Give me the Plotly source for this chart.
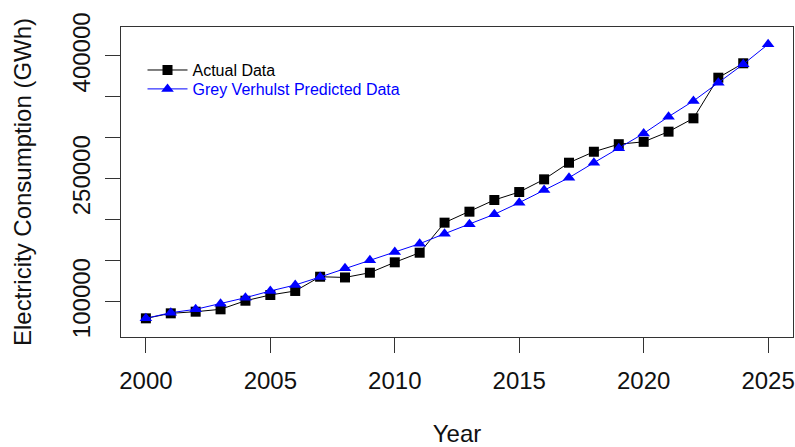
import plotly.graph_objects as go

years_actual = list(range(2000, 2025))
actual = [79700, 85800, 87800, 90700, 101200, 108200, 113100, 130500, 129600, 135400,
          148100, 159800, 196500, 209900, 224200, 233900, 249400, 269700, 283100, 292300,
          295200, 307600, 323900, 373500, 391100]

years_pred = list(range(2000, 2026))
predicted = [79700, 86600, 90700, 97600, 104900, 113100, 120400, 130200, 140800, 150500,
             160700, 170800, 183000, 194500, 206700, 220900, 236400, 251400, 269700, 287300,
             305400, 325900, 345100, 367400, 389900, 414300]

x_tick_vals = [2000, 2005, 2010, 2015, 2020, 2025]
y_tick_vals = [100000, 150000, 200000, 250000, 300000, 350000, 400000]
y_tick_text = ["100000", "", "", "250000", "", "", "400000"]

FONT = "Liberation Sans, Arial, sans-serif"

fig = go.Figure()
fig.add_trace(go.Scatter(
    x=years_actual, y=actual, mode="lines+markers", name="Actual Data",
    line=dict(color="black", width=1),
    marker=dict(symbol="square", size=10, color="black"),
    legend="legend", showlegend=True,
))
fig.add_trace(go.Scatter(
    x=years_pred, y=predicted, mode="lines+markers", name="Grey Verhulst Predicted Data",
    line=dict(color="blue", width=1),
    marker=dict(symbol="triangle-up", size=11, color="blue"),
    legend="legend2", showlegend=True,
))

axis_common = dict(
    showline=True, linecolor="#333", linewidth=1, mirror=True,
    showgrid=False, zeroline=False, automargin=False,
    ticks="outside", ticklen=15, tickcolor="#333", tickwidth=1,
    tickfont=dict(family=FONT, size=24, color="#111"),
)

fig.update_layout(
    width=795, height=447,
    showlegend=True,
    margin=dict(l=121, r=2, t=27, b=110),
    paper_bgcolor="white", plot_bgcolor="white",
    font=dict(family=FONT, color="#111"),
    xaxis=dict(
        range=[1999, 2026], tickmode="array", tickvals=x_tick_vals,
        ticklabelstandoff=7,
        title=dict(text="Year", font=dict(family=FONT, size=24, color="#111"), standoff=38),
        **axis_common,
    ),
    yaxis=dict(
        range=[56900, 435400], tickmode="array", tickvals=y_tick_vals, ticktext=y_tick_text,
        tickangle=-90, ticklabelstandoff=5,
        title=dict(text="Electricity Consumption (GWh)", font=dict(family=FONT, size=24, color="#111"), standoff=30),
        **axis_common,
    ),
    legend=dict(
        x=0.032, y=0.861, xanchor="left", yanchor="middle",
        bgcolor="rgba(0,0,0,0)", borderwidth=0, itemwidth=40,
        font=dict(family=FONT, size=16, color="black"),
    ),
    legend2=dict(
        x=0.032, y=0.80, xanchor="left", yanchor="middle",
        bgcolor="rgba(0,0,0,0)", borderwidth=0, itemwidth=40,
        font=dict(family=FONT, size=16, color="blue"),
    ),
)

fig.write_html(
    "out.html",
    config={"displayModeBar": False},
    post_script="document.body.style.margin='0';document.body.style.overflow='hidden';",
)
